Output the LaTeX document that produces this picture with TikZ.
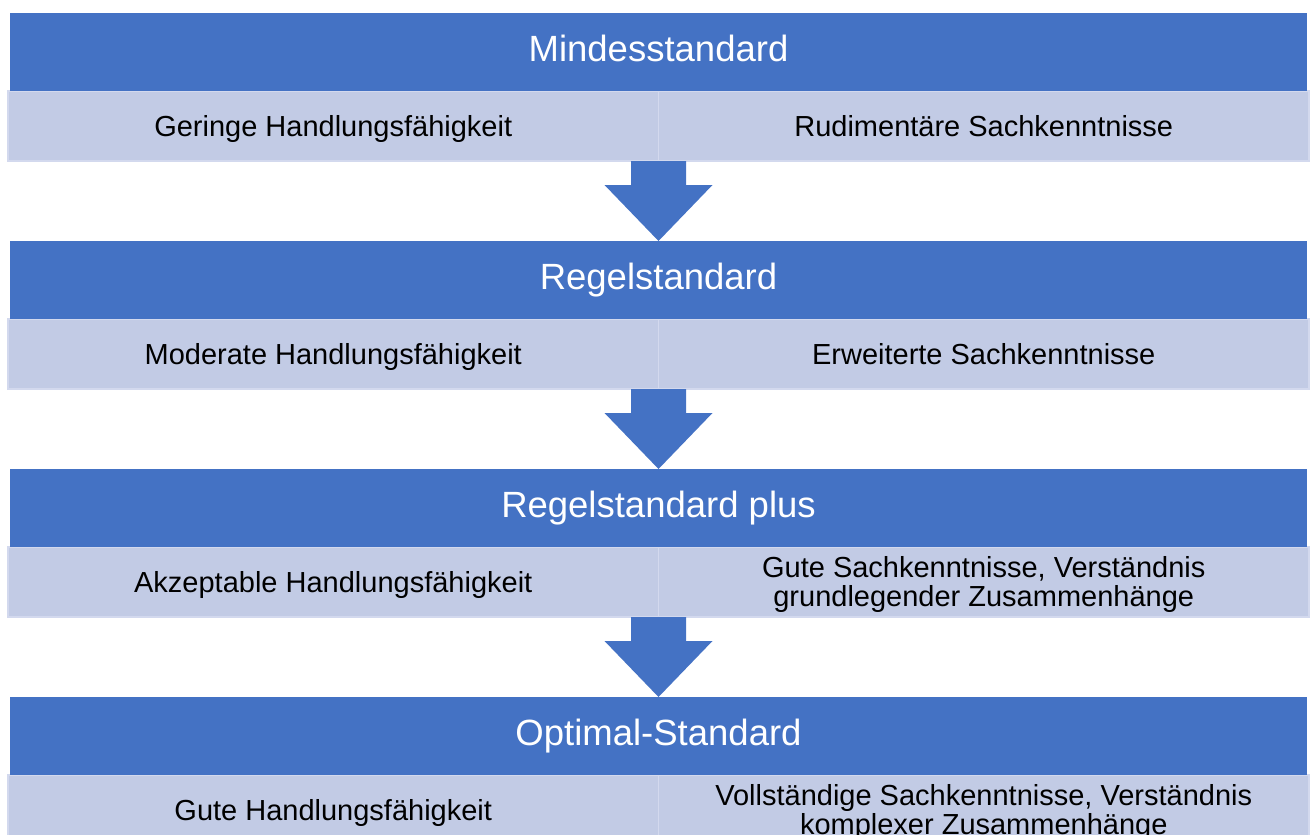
\documentclass[tikz,border=0pt]{standalone}
\usepackage{fontspec}
\setmainfont{Liberation Sans}
\usepackage{tikz}
\usetikzlibrary{calc}
\definecolor{hblue}{HTML}{4472C4}
\definecolor{cellbg}{HTML}{C2CBE5}
\definecolor{cellln}{HTML}{D3D9EE}
\newcommand{\headfont}{\fontsize{36.5}{40}\selectfont}
\newcommand{\cellfont}{\fontsize{29}{29.5}\selectfont}
% struts so that every cell text sits at the same height
\newcommand{\cellone}[1]{\rule[-6.1pt]{0pt}{32.2pt}#1}
\newcommand{\celltwo}[2]{\rule{0pt}{26.1pt}#1\\#2\rule[-6.1pt]{0pt}{6.1pt}}
\tikzset{
  head/.style={fill=hblue, text=white, font=\headfont, minimum width=1297pt, minimum height=78pt,
    text height=28pt, text depth=8.6pt, inner sep=0pt, outer sep=0pt},
  cell/.style={fill=cellbg, draw=cellln, line width=1.5pt, minimum width=650.5pt, minimum height=70pt,
    inner sep=0pt, outer sep=0pt, text=black, font=\cellfont, align=center},
  blk/.style={fill=hblue}
}

\begin{document}
\begin{tikzpicture}[x=1pt,y=-1pt]
  \clip (0,0) rectangle (1312,835);

  % stages: header, left cell, right cell
  \foreach \i/\t/\a/\b in {
      0/Mindesstandard/{\cellone{Geringe Handlungsfähigkeit}}/{\cellone{Rudimentäre Sachkenntnisse}},
      1/Regelstandard/{\cellone{Moderate Handlungsfähigkeit}}/{\cellone{Erweiterte Sachkenntnisse}},
      2/Regelstandard plus/{\cellone{Akzeptable Handlungsfähigkeit}}/{\celltwo{Gute Sachkenntnisse, Verständnis}{grundlegender Zusammenhänge}},
      3/Optimal-Standard/{\cellone{Gute Handlungsfähigkeit}}/{\celltwo{Vollständige Sachkenntnisse, Verständnis}{komplexer Zusammenhänge}}} {
    \node[cell] (l\i) at (333.25,126+228*\i) {\a};
    \node[cell] (r\i) at (983.75,126+228*\i) {\b};
    \node[head] (h\i) at (658.5,52+228*\i) {\t};
  }

  % block arrows between stages
  \foreach \i in {0,1,2} {
    \pgfmathtruncatemacro{\j}{\i+1}
    \path (l\i.south east) coordinate (s) (h\j.north) coordinate (t);
    \fill[blk] ($(s)+(-27.5,0)$) -- ($(s)+(27.5,0)$) -- ($(s)+(27.5,24)$)
      -- ($(s)+(54,24)$) -- (t) -- ($(s)+(-54,24)$) -- ($(s)+(-27.5,24)$) -- cycle;
  }
\end{tikzpicture}
\end{document}
